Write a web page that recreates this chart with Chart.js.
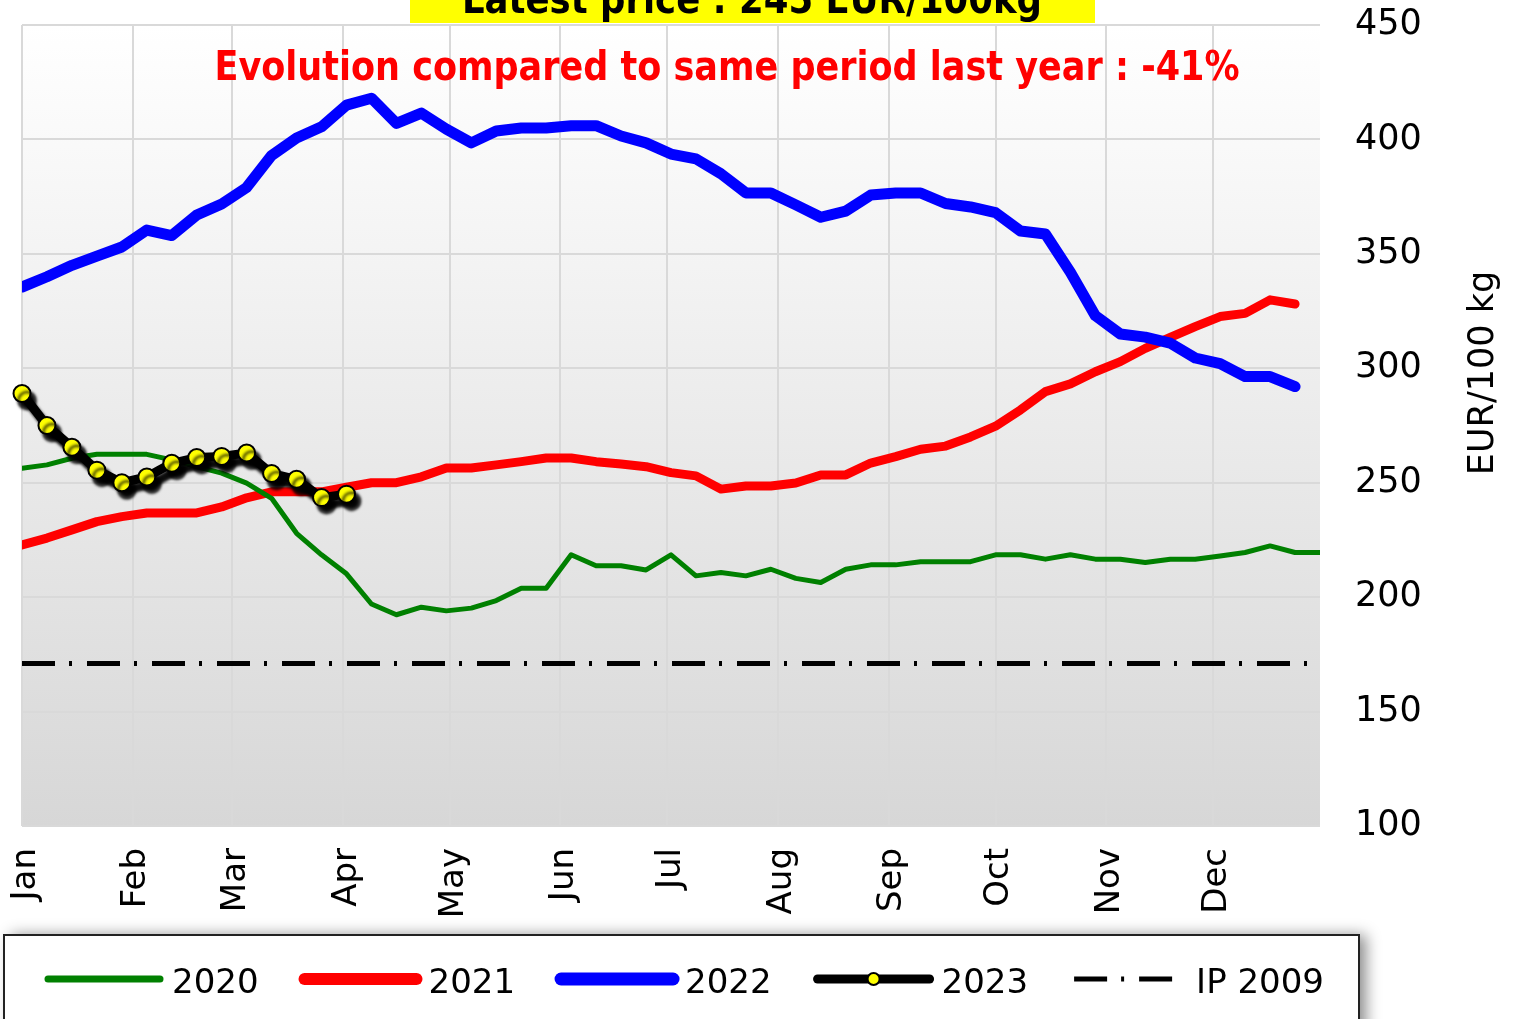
<!DOCTYPE html>
<html lang="en">
<head>
<meta charset="UTF-8">
<title>Latest price : 245 EUR/100kg</title>
<script src="https://cdn.jsdelivr.net/npm/chart.js"></script>
<style>
    html, body {
        margin: 0;
        padding: 0;
        background: #fff;
    }
    #wrap {
        width: 1519px;
        height: 1019px;
    }
</style>
</head>
<body>
<div id="wrap"><canvas id="priceChart" width="1519" height="1019"></canvas></div>

<script>
// month axis: first day of each month, counted from 1 January
const monthLabels = ['Jan', 'Feb', 'Mar', 'Apr', 'May', 'Jun', 'Jul', 'Aug', 'Sep', 'Oct', 'Nov', 'Dec'];
const monthStarts = [0, 31, 59, 90, 120, 151, 181, 212, 243, 273, 304, 334];
const weekStep = 7;      // one quote per week
const dayMax = 364;

// weekly prices, EUR/100 kg
const prices2020 = [256.3, 257.8, 260.7, 262.4, 262.4, 262.4, 260, 257, 254.2, 249.8,
    243.2, 227.9, 218.5, 210.2, 197, 192.3, 195.6, 194, 195.2, 198.5,
    203.9, 203.9, 218.5, 213.7, 213.7, 211.9, 218.5, 209.3, 210.8, 209.3,
    212.2, 208.2, 206.4, 212.2, 214.1, 214.1, 215.5, 215.5, 215.5, 218.5,
    218.5, 216.6, 218.5, 216.6, 216.6, 215.1, 216.6, 216.6, 218, 219.5,
    222.4, 219.5, 219.5];
const prices2021 = [222.8, 225.8, 229.4, 233, 235.2, 236.8, 236.8, 236.8, 239.4, 243.4,
    246, 246, 246, 248, 250, 250, 252.6, 256.4, 256.4, 257.8,
    259.2, 260.8, 260.8, 259.2, 258.2, 257, 254.4, 253, 247.2, 248.6,
    248.6, 249.9, 253.4, 253.4, 258.6, 261.4, 264.6, 266, 270, 274.7,
    281.8, 289.8, 293.2, 298.5, 302.9, 308.7, 313.5, 318.2, 322.6, 324,
    329.9, 328.1];
const prices2022 = [335.5, 340, 345, 349, 353, 360.4, 358, 367, 371.8, 379,
    393, 400.6, 405.5, 415, 418, 407, 411.5, 404.5, 398.5, 403.7,
    405, 405, 406, 406, 401.5, 398.5, 393.6, 391.5, 385, 376.6,
    376.6, 371.4, 366, 368.7, 375.7, 376.6, 376.6, 372, 370.5, 368,
    360, 358.7, 342, 323, 315, 313.6, 311, 304.5, 302, 296.4,
    296.4, 292];
const prices2023 = [289, 275, 265.5, 255.5, 250, 252.5, 258.5, 261, 261.5, 263,
    254, 251.5, 243.5, 245];
const ip2009 = 171;

const yMin = 100, yMax = 450, yStep = 50;

const titleText = 'Latest price : 245 EUR/100kg';
const subtitleText = 'Evolution compared to same period last year : -41%';
const axisTitle = 'EUR/100 kg';

const FONT = '"DejaVu Sans", Verdana, sans-serif';

function weekly(values) {
    return values.map((v, i) => ({ x: i * weekStep, y: v }));
}

// white-to-grey fill of the plot area
const plotBackground = {
    id: 'plotBackground',
    beforeDraw(chart) {
        const { ctx, chartArea: a } = chart;
        const g = ctx.createLinearGradient(0, a.top, 0, a.bottom);
        g.addColorStop(0, '#ffffff');
        g.addColorStop(1, '#d7d7d7');
        ctx.save();
        ctx.fillStyle = g;
        ctx.fillRect(a.left, a.top, a.width, a.height);
        ctx.restore();
    }
};

// hard black shadow under the 2023 line
const dropShadow = {
    id: 'dropShadow',
    beforeDatasetDraw(chart, args) {
        if (chart.data.datasets[args.index].label !== '2023') return;
        const ctx = chart.ctx;
        ctx.save();
        ctx.shadowColor = 'rgba(0,0,0,0.95)';
        ctx.shadowBlur = 3;
        ctx.shadowOffsetX = 5;
        ctx.shadowOffsetY = 7;
    },
    afterDatasetDraw(chart, args) {
        if (chart.data.datasets[args.index].label !== '2023') return;
        chart.ctx.restore();
    }
};

function fittedText(ctx, text, cx, baseline, font, width, color) {
    ctx.save();
    ctx.font = font;
    const w = ctx.measureText(text).width;
    ctx.translate(cx, baseline);
    ctx.scale(width / w, 1);
    ctx.textAlign = 'center';
    ctx.textBaseline = 'alphabetic';
    ctx.fillStyle = color;
    ctx.fillText(text, 0, 0);
    ctx.restore();
}

// titles, axis title and the boxed legend
const decorations = {
    id: 'decorations',
    afterDraw(chart) {
        const ctx = chart.ctx;

        ctx.save();
        ctx.fillStyle = '#ffff00';
        ctx.fillRect(410, -10, 685, 33);
        ctx.restore();
        fittedText(ctx, titleText, 752, 13, 'bold 40px ' + FONT, 580, '#000');
        fittedText(ctx, subtitleText, 727, 80, 'bold 40px ' + FONT, 1025, '#ff0000');

        ctx.save();
        ctx.translate(1484, 373);
        ctx.rotate(-Math.PI / 2);
        ctx.font = '35px ' + FONT;
        ctx.fillStyle = '#000';
        ctx.textAlign = 'center';
        ctx.textBaseline = 'middle';
        ctx.fillText(axisTitle, 0, 0);
        ctx.restore();

        // legend box
        ctx.save();
        ctx.shadowColor = 'rgba(0,0,0,0.45)';
        ctx.shadowBlur = 14;
        ctx.shadowOffsetX = 7;
        ctx.fillStyle = '#fff';
        ctx.fillRect(4, 935, 1355, 120);
        ctx.restore();
        ctx.save();
        ctx.strokeStyle = '#222';
        ctx.lineWidth = 2;
        ctx.strokeRect(4, 935, 1355, 120);
        ctx.restore();

        const legendWidths = { '2020': 7, '2021': 12, '2022': 13, '2023': 9, 'IP 2009': 5 };
        const lineY = 979;
        let x = 48;
        ctx.save();
        ctx.font = '34px ' + FONT;
        ctx.textBaseline = 'alphabetic';
        chart.data.datasets.forEach(ds => {
            const dashed = ds.borderDash && ds.borderDash.length;
            const len = dashed ? 100 : 112;
            ctx.beginPath();
            ctx.strokeStyle = ds.borderColor;
            ctx.lineWidth = legendWidths[ds.label];
            ctx.lineCap = dashed ? 'butt' : 'round';
            ctx.setLineDash(dashed ? ds.borderDash : []);
            ctx.moveTo(x, lineY);
            ctx.lineTo(x + len, lineY);
            ctx.stroke();
            ctx.setLineDash([]);
            if (ds.pointRadius) {
                ctx.beginPath();
                ctx.arc(x + len / 2, lineY, 6, 0, Math.PI * 2);
                ctx.fillStyle = ds.pointBackgroundColor;
                ctx.fill();
                ctx.lineWidth = 2;
                ctx.strokeStyle = ds.pointBorderColor;
                ctx.stroke();
            }
            const tx = x + len + (dashed ? 22 : 12);
            ctx.fillStyle = '#000';
            ctx.textAlign = 'left';
            ctx.fillText(ds.label, tx, 993);
            x = tx + ctx.measureText(ds.label).width + 46;
        });
        ctx.restore();
    }
};

const ctx = document.getElementById('priceChart').getContext('2d');
new Chart(ctx, {
    type: 'line',
    data: {
        datasets: [
            {
                label: '2020',
                data: weekly(prices2020),
                borderColor: '#008000',
                borderWidth: 5,
                order: 1
            },
            {
                label: '2021',
                data: weekly(prices2021),
                borderColor: '#ff0000',
                borderWidth: 9,
                order: 3
            },
            {
                label: '2022',
                data: weekly(prices2022),
                borderColor: '#0000ff',
                borderWidth: 11,
                order: 2
            },
            {
                label: '2023',
                data: weekly(prices2023),
                borderColor: '#000000',
                borderWidth: 9,
                pointRadius: 8.5,
                pointBackgroundColor: '#ffff00',
                pointBorderColor: '#000000',
                pointBorderWidth: 2,
                clip: false,
                order: 0
            },
            {
                label: 'IP 2009',
                data: [{ x: 0, y: ip2009 }, { x: dayMax, y: ip2009 }],
                borderColor: '#000000',
                borderWidth: 5,
                borderDash: [33, 14, 3, 15],
                borderCapStyle: 'butt',
                order: 4
            }
        ]
    },
    options: {
        responsive: false,
        animation: false,
        layout: { padding: { top: 25, left: 22, right: 0, bottom: 0 } },
        elements: {
            line: { tension: 0, fill: false, borderCapStyle: 'round', borderJoinStyle: 'round' },
            point: { radius: 0, hoverRadius: 0 }
        },
        plugins: {
            legend: { display: false },
            tooltip: { enabled: false }
        },
        scales: {
            x: {
                type: 'linear',
                min: 0,
                max: dayMax,
                afterBuildTicks: scale => {
                    scale.ticks = monthStarts.map(v => ({ value: v }));
                },
                afterFit: scale => {
                    scale.height = 193;
                    scale.paddingLeft = 0;
                    scale.paddingRight = 0;
                },
                ticks: {
                    autoSkip: false,
                    minRotation: 90,
                    maxRotation: 90,
                    padding: 22,
                    labelOffset: 4,
                    color: '#000',
                    font: { family: FONT, size: 34 },
                    callback: (value, index) => monthLabels[index]
                },
                grid: { color: '#d9d9d9', lineWidth: 2, drawTicks: false },
                border: { display: false }
            },
            y: {
                position: 'right',
                min: yMin,
                max: yMax,
                afterFit: scale => {
                    scale.width = 199;
                    scale.paddingTop = 0;
                    scale.paddingBottom = 0;
                },
                ticks: {
                    stepSize: yStep,
                    padding: 35,
                    color: '#000',
                    font: { family: FONT, size: 35 }
                },
                grid: { color: '#d9d9d9', lineWidth: 2, drawTicks: false },
                border: { display: false }
            }
        }
    },
    plugins: [plotBackground, dropShadow, decorations]
});
</script>
</body>
</html>
